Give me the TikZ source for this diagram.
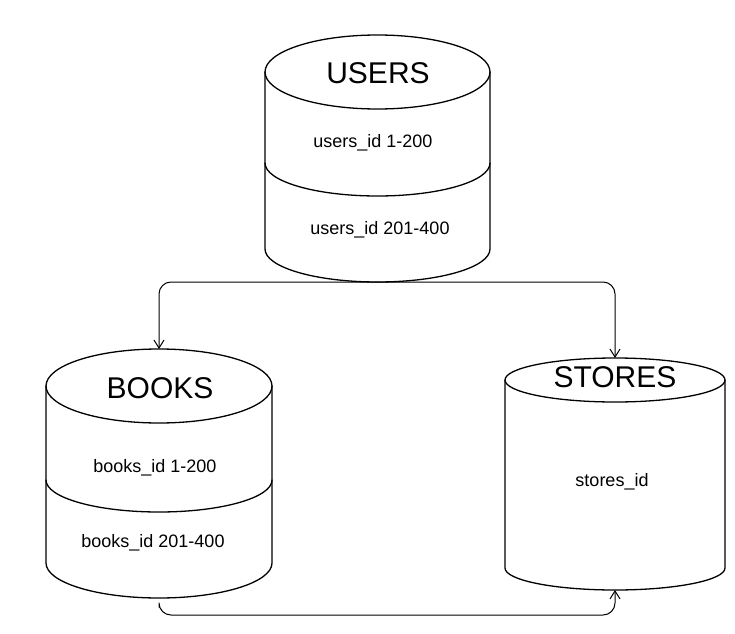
\documentclass[tikz,border=0pt]{standalone}
\usepackage{fontspec}
\setmainfont{Liberation Sans}
\usepackage{tikz}
\usetikzlibrary{arrows.meta}

\begin{document}
\begin{tikzpicture}[x=1pt, y=1pt, line width=1.3pt, line cap=round, line join=round,
    dbbox/.style={inner sep=0pt, outer sep=0pt},
    dbname/.style={font=\fontsize{30}{36}\selectfont},
    idtext/.style={font=\fontsize{18}{22}\selectfont},
    link/.style={-{Straight Barb[length=8pt, width=10pt]}, line width=1pt, rounded corners=12pt}]
      \useasboundingbox (0, 0) rectangle (735, 633);
      % database blocks
      \node[dbbox, minimum width=225pt, minimum height=247pt] (users) at (377.5, 474.5) {};
      \node[dbbox, minimum width=226pt, minimum height=249pt] (books) at (159, 159.5) {};
      \node[dbbox, minimum width=220pt, minimum height=232pt] (stores) at (615, 159) {};
      % users
      \draw (377.5, 561) ellipse (112.5 and 37);
      \draw (265, 561) -- (265, 384) arc[start angle=180, end angle=360, x radius=112.5, y radius=33] -- (490, 561);
      \draw (265, 470) arc[start angle=180, end angle=360, x radius=112.5, y radius=33];
      % books
      \draw (159, 247) ellipse (113 and 37);
      \draw (46, 247) -- (46, 70) arc[start angle=180, end angle=360, x radius=113, y radius=35] -- (272, 247);
      \draw (46, 153) arc[start angle=180, end angle=360, x radius=113, y radius=32];
      % stores
      \draw (615, 253) ellipse (110 and 22);
      \draw (505, 253) -- (505, 65) arc[start angle=180, end angle=360, x radius=110, y radius=22] -- (725, 253);
      % texts
      \node[dbname] (users-name) at (378, 560) {USERS};
      \node[idtext] (users-a) at (373, 490) {users\_id 1-200};
      \node[idtext] (users-b) at (380, 403) {users\_id 201-400};
      \node[dbname] (books-name) at (160, 245) {BOOKS};
      \node[idtext] (books-a) at (155, 165) {books\_id 1-200};
      \node[idtext] (books-b) at (153, 90) {books\_id 201-400};
      \node[dbname] (stores-name) at (615, 256) {STORES};
      \node[idtext] (stores-a) at (612, 151) {stores\_id};
      % links
      \draw[link] (users.south) -| (books.north);
      \draw[link] (users.south) -| (stores.north);
      \draw[link, shorten <=9pt] (books.south) |- (615, 18) -- (stores.south);
\end{tikzpicture}
\end{document}
